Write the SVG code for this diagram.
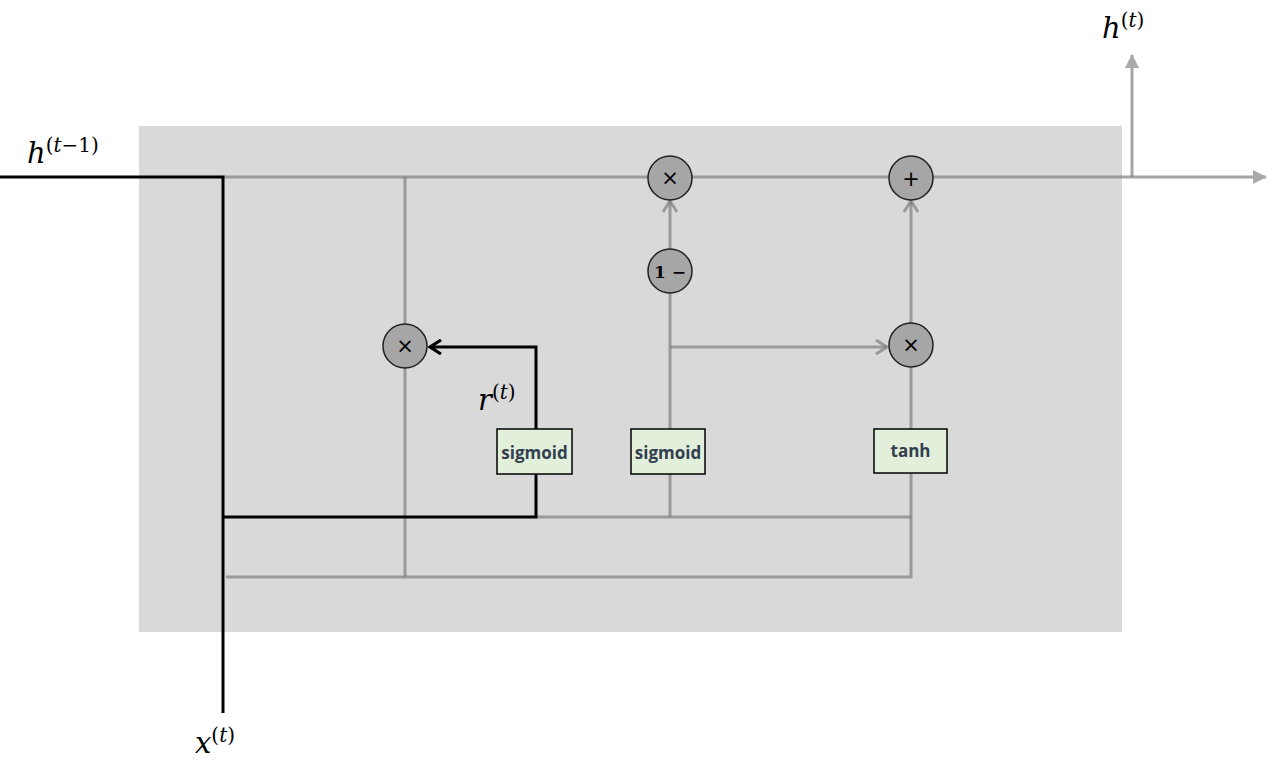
<svg xmlns="http://www.w3.org/2000/svg" width="1280" height="769" viewBox="0 0 1280 769">
<style>
.g{fill:none;stroke:#7f7f7f;stroke-opacity:0.7;stroke-width:3}
.k{fill:none;stroke:#000;stroke-width:3}
.op{fill:#a6a6a6;stroke:#222;stroke-width:1.5}
.opt{font-family:"DejaVu Sans",sans-serif;font-size:21px;fill:#000;text-anchor:middle}
.box{fill:#e2efda;stroke:#000;stroke-width:1.5}
.bt{font-family:"Open Sans","Liberation Sans",sans-serif;font-weight:bold;font-size:17px;fill:#333f50;text-anchor:middle}
.m{font-family:"DejaVu Serif","Liberation Serif",serif;font-style:italic;font-size:29px;fill:#000}
.s{font-family:"DejaVu Serif","Liberation Serif",serif;font-size:20px;fill:#000}
.si{font-style:italic}
</style>
<defs>
<marker id="ag" viewBox="0 0 16 16" refX="13" refY="8" markerWidth="16" markerHeight="16" markerUnits="userSpaceOnUse" orient="auto"><path d="M2,1 L13,8 L2,15" fill="none" stroke="#7f7f7f" stroke-opacity="0.7" stroke-width="3"/></marker>
<marker id="at" viewBox="0 0 14 14" refX="13" refY="7" markerWidth="14" markerHeight="14" markerUnits="userSpaceOnUse" orient="auto"><path d="M0,0 L14,7 L0,14 Z" fill="#aaa"/></marker>
<marker id="ak" viewBox="0 0 16 16" refX="13" refY="8" markerWidth="16" markerHeight="16" markerUnits="userSpaceOnUse" orient="auto"><path d="M2,1 L13,8 L2,15" fill="none" stroke="#000" stroke-width="3.2"/></marker>
</defs>
<rect id="cell" x="139" y="126" width="983" height="506" fill="#d9d9d9"/>
<g id="connectors">
<path class="g" d="M223,177 L1266,177" marker-end="url(#at)"/>
<path class="g" d="M1132,177 L1132,55" marker-end="url(#at)"/>
<path class="g" d="M405,177 L405,577"/>
<path class="g" d="M536,517 L911,517"/>
<path class="g" d="M226,577 L911,577 L911,367"/>
<path class="g" d="M911,323 L911,201" marker-end="url(#ag)"/>
<path class="g" d="M670,517 L670,293"/>
<path class="g" d="M670,249 L670,201" marker-end="url(#ag)"/>
<path class="g" d="M670,347 L887,347" marker-end="url(#ag)"/>
<path class="k" d="M0,177 L223,177 L223,713"/>
<path class="k" d="M223,517 L536,517 L536,347 L430,347" marker-end="url(#ak)"/>
</g>
<g id="mul-reset"><circle class="op" cx="405" cy="346" r="22"/><text class="opt" x="405" y="353">×</text></g>
<g id="mul-top"><circle class="op" cx="670" cy="178" r="22"/><text class="opt" x="670" y="185">×</text></g>
<g id="one-minus"><circle class="op" cx="670" cy="271" r="22"/><text x="670" y="278" font-family="DejaVu Serif,serif" font-weight="bold" font-size="17" text-anchor="middle">1 −</text></g>
<g id="plus"><circle class="op" cx="911" cy="178" r="22"/><text class="opt" x="911" y="186">+</text></g>
<g id="mul-cand"><circle class="op" cx="911" cy="345" r="22"/><text class="opt" x="911" y="352">×</text></g>
<g id="sigmoid-r"><rect class="box" x="497" y="429" width="75" height="45"/><text class="bt" x="534.5" y="459">sigmoid</text></g>
<g id="sigmoid-z"><rect class="box" x="631" y="429" width="74" height="45"/><text class="bt" x="668" y="459">sigmoid</text></g>
<g id="tanh"><rect class="box" x="874" y="429" width="73" height="44"/><text class="bt" x="910.5" y="457">tanh</text></g>
<g id="labels">
<text x="27" y="163"><tspan class="m">h</tspan><tspan class="s" dy="-11">(<tspan class="si">t</tspan>−1)</tspan></text>
<text x="1102" y="38"><tspan class="m">h</tspan><tspan class="s" dy="-11">(<tspan class="si">t</tspan>)</tspan></text>
<text x="478" y="410"><tspan class="m">r</tspan><tspan class="s" dy="-11">(<tspan class="si">t</tspan>)</tspan></text>
<text x="195" y="753"><tspan class="m">x</tspan><tspan class="s" dy="-11">(<tspan class="si">t</tspan>)</tspan></text>
</g>
</svg>
